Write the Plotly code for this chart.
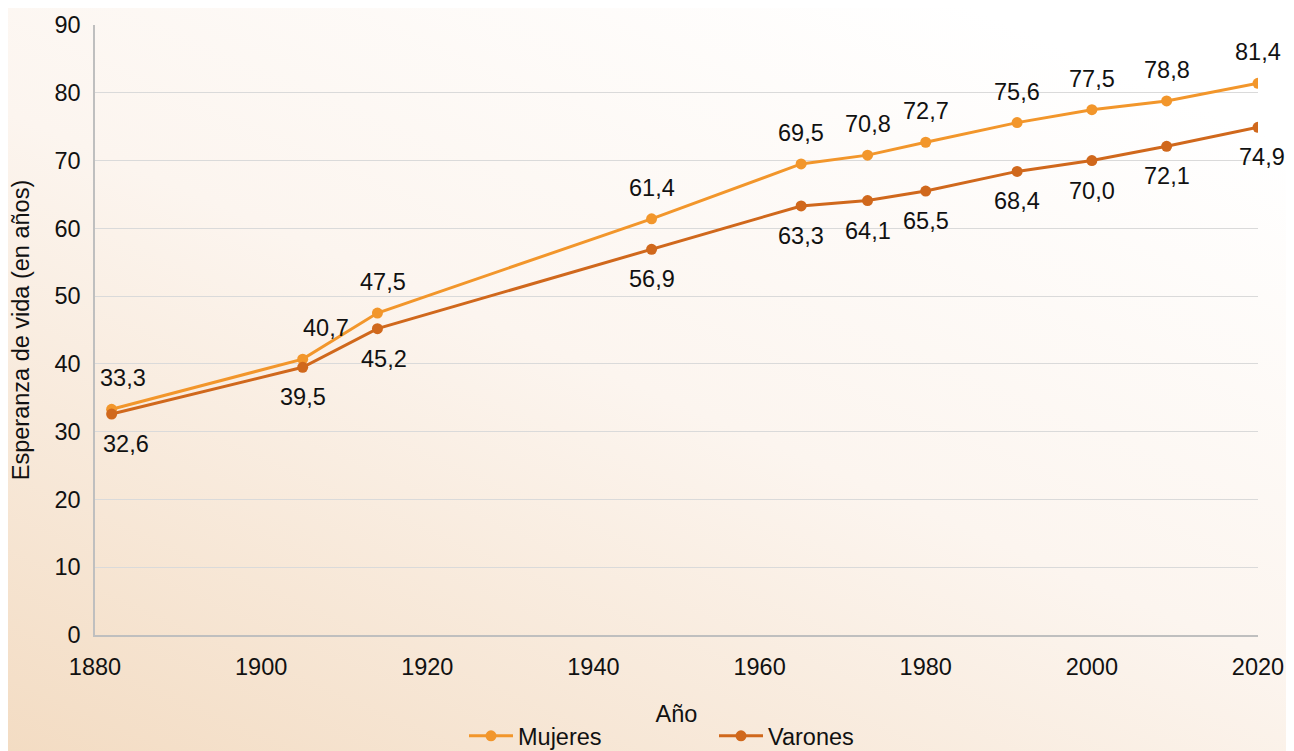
import base64
import plotly.graph_objects as go

# ---- data ----
years = [1882, 1905, 1914, 1947, 1965, 1973, 1980, 1991, 2000, 2009, 2020]
mujeres = [33.3, 40.7, 47.5, 61.4, 69.5, 70.8, 72.7, 75.6, 77.5, 78.8, 81.4]
varones = [32.6, 39.5, 45.2, 56.9, 63.3, 64.1, 65.5, 68.4, 70.0, 72.1, 74.9]
x_ticks = [1880, 1900, 1920, 1940, 1960, 1980, 2000, 2020]
y_ticks = [0, 10, 20, 30, 40, 50, 60, 70, 80, 90]

# ---- style ----
C_MUJ = "#F2962B"
C_VAR = "#D0681C"
FONT = "Liberation Sans, Arial, Helvetica, sans-serif"
FS = 23.5
OFF = 8  # page body margin
W, H = 1294 - OFF, 770
ML, MR, MT = 95 - OFF, 36, 25 - OFF
PW = W - ML - MR
PH = 610
MB = H - MT - PH

# small horizontal nudges for a few labels (px), keyed by index
muj_xshift = {0: 11, 1: 23, 2: 6}
var_xshift = {0: 14, 2: 7, 10: 4}


def fmt(v):
    return f"{v:.1f}".replace(".", ",")


fig = go.Figure()
fig.add_trace(go.Scatter(
    x=years, y=mujeres, name="Mujeres", mode="lines+markers",
    line=dict(color=C_MUJ, width=3), marker=dict(color=C_MUJ, size=11),
))
fig.add_trace(go.Scatter(
    x=years, y=varones, name="Varones", mode="lines+markers",
    line=dict(color=C_VAR, width=3), marker=dict(color=C_VAR, size=11),
))

annotations = []
for i, (x, y) in enumerate(zip(years, mujeres)):
    annotations.append(dict(x=x, y=y, text=fmt(y), showarrow=False,
                            yshift=31, xshift=muj_xshift.get(i, 0),
                            font=dict(size=FS, color="#111111", family=FONT)))
for i, (x, y) in enumerate(zip(years, varones)):
    annotations.append(dict(x=x, y=y, text=fmt(y), showarrow=False,
                            yshift=-30, xshift=var_xshift.get(i, 0),
                            font=dict(size=FS, color="#111111", family=FONT)))

# background gradient as inline svg
svg = (
    '<svg xmlns="http://www.w3.org/2000/svg" width="1294" height="751">'
    '<defs><linearGradient id="g" x1="0" y1="1" x2="0.75" y2="0">'
    '<stop offset="0" stop-color="#F3DCC3"/>'
    '<stop offset="0.55" stop-color="#FCF5EF"/>'
    '<stop offset="1" stop-color="#FFFFFF"/>'
    '</linearGradient></defs>'
    '<rect width="1294" height="751" fill="url(#g)"/></svg>'
)
src = "data:image/svg+xml;base64," + base64.b64encode(svg.encode()).decode()

LEG_Y = 736 - OFF  # legend centre in figure px
LEG_X = 470 - OFF - 6

fig.update_layout(
    width=W, height=H,
    margin=dict(l=ML, r=MR, t=MT, b=MB, autoexpand=False),
    paper_bgcolor="#FFFFFF",
    plot_bgcolor="rgba(0,0,0,0)",
    font=dict(family=FONT, size=FS, color="#111111"),
    images=[dict(source=src, xref="paper", yref="paper",
                 x=-ML / PW, y=1 + MT / PH, sizex=W / PW, sizey=(751 - OFF) / PH,
                 xanchor="left", yanchor="top", sizing="stretch",
                 layer="below")],
    xaxis=dict(
        range=[1880, 2020], tickvals=x_ticks, ticktext=[str(t) for t in x_ticks],
        showgrid=False, zeroline=False, showline=True, linecolor="#BFBFBF",
        linewidth=1.5, ticks="", tickfont=dict(size=FS), ticklabelstandoff=10,
        title=dict(text="Año", font=dict(size=FS), standoff=27),
    ),
    yaxis=dict(
        range=[0, 90], tickvals=y_ticks, showgrid=True, gridcolor="#DADADA",
        gridwidth=1, zeroline=False, showline=True, linecolor="#BFBFBF",
        linewidth=1.5, ticks="", tickfont=dict(size=FS), ticklabelstandoff=8,
        title=dict(text="Esperanza de vida (en años)", font=dict(size=FS), standoff=20),
    ),
    legend=dict(
        orientation="h", x=(LEG_X - ML) / PW, xanchor="left",
        y=-(LEG_Y - (MT + PH)) / PH, yanchor="middle",
        bgcolor="rgba(0,0,0,0)", font=dict(size=FS),
        entrywidth=191, entrywidthmode="pixels", itemwidth=44,
    ),
    annotations=annotations,
    showlegend=True,
)

fig.write_html("out.html")
